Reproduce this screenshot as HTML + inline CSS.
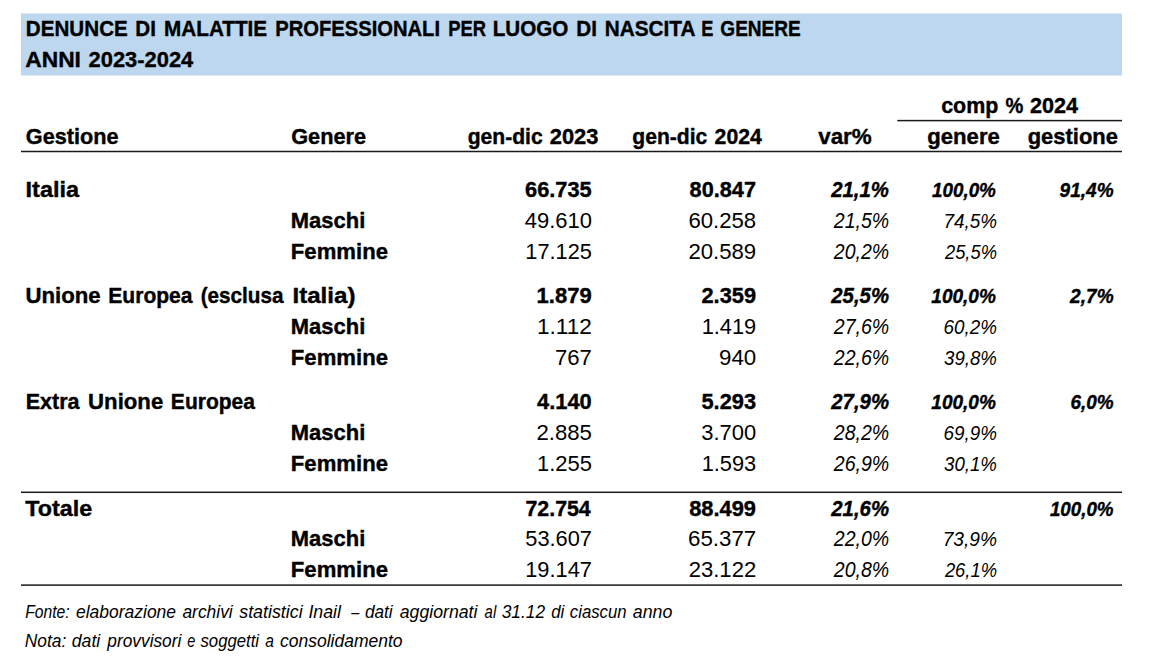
<!DOCTYPE html>
<html><head><meta charset="utf-8"><style>
html,body{margin:0;padding:0;background:#fff;width:1158px;height:671px;overflow:hidden}
svg{position:absolute;left:0;top:0;display:block}
text{font-family:"Liberation Sans",sans-serif;fill:#000;white-space:pre}
.r,.i{}
.b{font-weight:bold;stroke:#000;stroke-width:0.4px;}
.i{font-style:italic}
.bi{font-weight:bold;font-style:italic;stroke:#000;stroke-width:0.4px;}
</style></head><body>
<svg width="1158" height="671" viewBox="0 0 1158 671">
<rect x="21" y="13.5" width="1101" height="62" fill="#BDD7EE"/>
<rect x="897.3" y="119.85" width="224.7" height="1.5" fill="#1a1a1a"/>
<rect x="21" y="150.75" width="1101" height="1.5" fill="#1a1a1a"/>
<rect x="21" y="491.55" width="1101" height="1.5" fill="#1a1a1a"/>
<rect x="21" y="584.35" width="1101" height="1.5" fill="#1a1a1a"/>
<text class="b" font-size="22.7" transform="translate(25.87 36.00) scale(0.9080 1)">DENUNCE</text>
<text class="b" font-size="22.7" transform="translate(135.37 36.00) scale(0.9093 1)">DI</text>
<text class="b" font-size="22.7" transform="translate(164.07 36.00) scale(0.9122 1)">MALATTIE</text>
<text class="b" font-size="22.7" transform="translate(275.19 36.00) scale(0.8899 1)">PROFESSIONALI</text>
<text class="b" font-size="22.7" transform="translate(448.25 36.00) scale(0.8103 1)">PER</text>
<text class="b" font-size="22.7" transform="translate(492.77 36.00) scale(0.9092 1)">LUOGO</text>
<text class="b" font-size="22.7" transform="translate(576.27 36.00) scale(0.9093 1)">DI</text>
<text class="b" font-size="22.7" transform="translate(604.77 36.00) scale(0.9148 1)">NASCITA</text>
<text class="b" font-size="22.7" transform="translate(701.15 36.00) scale(0.8000 1)">E</text>
<text class="b" font-size="22.7" transform="translate(720.37 36.00) scale(0.8389 1)">GENERE</text>
<text class="b" font-size="22.7" transform="translate(25.20 67.00) scale(1.0045 1)">ANNI</text>
<text class="b" font-size="22.7" transform="translate(88.59 67.00) scale(0.9645 1)">2023-2024</text>
<text class="b" font-size="22.7" transform="translate(941.19 113.00) scale(0.9442 1)">comp</text>
<text class="b" font-size="22.7" transform="translate(1005.48 113.00) scale(0.8824 1)">%</text>
<text class="b" font-size="22.7" transform="translate(1029.99 113.00) scale(0.9502 1)">2024</text>
<text class="b" font-size="22.7" transform="translate(25.79 144.00) scale(0.9560 1)">Gestione</text>
<text class="b" font-size="22.7" transform="translate(291.19 144.00) scale(0.9581 1)">Genere</text>
<text class="b" font-size="22.7" transform="translate(467.69 144.00) scale(0.9298 1)">gen-dic</text>
<text class="b" font-size="22.7" transform="translate(549.79 144.00) scale(0.9631 1)">2023</text>
<text class="b" font-size="22.7" transform="translate(632.29 144.00) scale(0.9298 1)">gen-dic</text>
<text class="b" font-size="22.7" transform="translate(714.59 144.00) scale(0.9346 1)">2024</text>
<text class="b" font-size="22.7" transform="translate(818.20 144.00) scale(0.9860 1)">var%</text>
<text class="b" font-size="22.7" transform="translate(927.29 144.00) scale(0.9746 1)">genere</text>
<text class="b" font-size="22.7" transform="translate(1027.69 144.00) scale(0.9670 1)">gestione</text>
<text class="b" font-size="22.7" transform="translate(25.57 197.00) scale(1.0334 1)">Italia</text>
<text class="b" font-size="22.7" transform="translate(290.83 228.00) scale(0.9679 1)">Maschi</text>
<text class="b" font-size="22.7" transform="translate(290.82 259.00) scale(0.9758 1)">Femmine</text>
<text class="b" font-size="22.7" transform="translate(525.09 197.00) scale(0.9599 1)">66.735</text>
<text class="b" font-size="22.7" transform="translate(689.59 197.00) scale(0.9570 1)">80.847</text>
<text class="bi" font-size="22.7" transform="translate(831.18 197.00) scale(0.8985 1)">21,1%</text>
<text class="bi" font-size="21.0" transform="translate(931.98 197.00) scale(0.8978 1)">100,0%</text>
<text class="r" font-size="22.7" transform="translate(524.70 228.00) scale(0.9684 1)">49.610</text>
<text class="r" font-size="22.7" transform="translate(688.42 228.00) scale(0.9768 1)">60.258</text>
<text class="i" font-size="22.7" transform="translate(833.86 228.00) scale(0.8595 1)">21,5%</text>
<text class="i" font-size="21.0" transform="translate(943.40 228.00) scale(0.9003 1)">74,5%</text>
<text class="r" font-size="22.7" transform="translate(525.34 259.00) scale(0.9591 1)">17.125</text>
<text class="r" font-size="22.7" transform="translate(688.42 259.00) scale(0.9768 1)">20.589</text>
<text class="i" font-size="22.7" transform="translate(833.86 259.00) scale(0.8595 1)">20,2%</text>
<text class="i" font-size="21.0" transform="translate(944.97 259.00) scale(0.8735 1)">25,5%</text>
<text class="bi" font-size="21.0" transform="translate(1059.58 197.00) scale(0.9076 1)">91,4%</text>
<text class="b" font-size="22.7" transform="translate(25.42 303.00) scale(0.9780 1)">Unione</text>
<text class="b" font-size="22.7" transform="translate(108.26 303.00) scale(0.9287 1)">Europea</text>
<text class="b" font-size="22.7" transform="translate(200.67 303.00) scale(0.9118 1)">(esclusa</text>
<text class="b" font-size="22.7" transform="translate(292.45 303.00) scale(1.0637 1)">Italia)</text>
<text class="b" font-size="22.7" transform="translate(290.83 334.00) scale(0.9679 1)">Maschi</text>
<text class="b" font-size="22.7" transform="translate(290.82 365.00) scale(0.9758 1)">Femmine</text>
<text class="b" font-size="22.7" transform="translate(536.62 303.00) scale(0.9702 1)">1.879</text>
<text class="b" font-size="22.7" transform="translate(701.49 303.00) scale(0.9601 1)">2.359</text>
<text class="bi" font-size="22.7" transform="translate(831.28 303.00) scale(0.8969 1)">25,5%</text>
<text class="bi" font-size="21.0" transform="translate(931.28 303.00) scale(0.9076 1)">100,0%</text>
<text class="r" font-size="22.7" transform="translate(537.00 334.00) scale(0.9968 1)">1.112</text>
<text class="r" font-size="22.7" transform="translate(701.64 334.00) scale(0.9609 1)">1.419</text>
<text class="i" font-size="22.7" transform="translate(833.76 334.00) scale(0.8610 1)">27,6%</text>
<text class="i" font-size="21.0" transform="translate(943.60 334.00) scale(0.8968 1)">60,2%</text>
<text class="r" font-size="22.7" transform="translate(555.03 365.00) scale(0.9742 1)">767</text>
<text class="r" font-size="22.7" transform="translate(719.02 365.00) scale(0.9825 1)">940</text>
<text class="i" font-size="22.7" transform="translate(833.76 365.00) scale(0.8610 1)">22,6%</text>
<text class="i" font-size="21.0" transform="translate(944.00 365.00) scale(0.8901 1)">39,8%</text>
<text class="bi" font-size="21.0" transform="translate(1070.09 303.00) scale(0.9094 1)">2,7%</text>
<text class="b" font-size="22.7" transform="translate(25.64 409.00) scale(0.9499 1)">Extra</text>
<text class="b" font-size="22.7" transform="translate(88.12 409.00) scale(0.9767 1)">Unione</text>
<text class="b" font-size="22.7" transform="translate(170.86 409.00) scale(0.9265 1)">Europea</text>
<text class="b" font-size="22.7" transform="translate(290.83 440.00) scale(0.9679 1)">Maschi</text>
<text class="b" font-size="22.7" transform="translate(290.82 471.00) scale(0.9758 1)">Femmine</text>
<text class="b" font-size="22.7" transform="translate(537.09 409.00) scale(0.9619 1)">4.140</text>
<text class="b" font-size="22.7" transform="translate(701.49 409.00) scale(0.9601 1)">5.293</text>
<text class="bi" font-size="22.7" transform="translate(831.28 409.00) scale(0.8969 1)">27,9%</text>
<text class="bi" font-size="21.0" transform="translate(931.28 409.00) scale(0.9076 1)">100,0%</text>
<text class="r" font-size="22.7" transform="translate(536.42 440.00) scale(0.9772 1)">2.885</text>
<text class="r" font-size="22.7" transform="translate(701.30 440.00) scale(0.9669 1)">3.700</text>
<text class="i" font-size="22.7" transform="translate(833.76 440.00) scale(0.8610 1)">28,2%</text>
<text class="i" font-size="21.0" transform="translate(943.60 440.00) scale(0.8968 1)">69,9%</text>
<text class="r" font-size="22.7" transform="translate(537.03 471.00) scale(0.9663 1)">1.255</text>
<text class="r" font-size="22.7" transform="translate(701.64 471.00) scale(0.9609 1)">1.593</text>
<text class="i" font-size="22.7" transform="translate(833.76 471.00) scale(0.8610 1)">26,9%</text>
<text class="i" font-size="21.0" transform="translate(944.00 471.00) scale(0.8901 1)">30,1%</text>
<text class="bi" font-size="21.0" transform="translate(1070.48 409.00) scale(0.9014 1)">6,0%</text>
<text class="b" font-size="22.7" transform="translate(25.31 516.00) scale(1.0276 1)">Totale</text>
<text class="b" font-size="22.7" transform="translate(290.83 546.00) scale(0.9679 1)">Maschi</text>
<text class="b" font-size="22.7" transform="translate(290.82 577.00) scale(0.9758 1)">Femmine</text>
<text class="b" font-size="22.7" transform="translate(525.49 516.00) scale(0.9405 1)">72.754</text>
<text class="b" font-size="22.7" transform="translate(689.19 516.00) scale(0.9628 1)">88.499</text>
<text class="bi" font-size="22.7" transform="translate(831.28 516.00) scale(0.8969 1)">21,6%</text>
<text class="r" font-size="22.7" transform="translate(525.30 546.00) scale(0.9597 1)">53.607</text>
<text class="r" font-size="22.7" transform="translate(688.02 546.00) scale(0.9827 1)">65.377</text>
<text class="i" font-size="22.7" transform="translate(833.76 546.00) scale(0.8610 1)">22,0%</text>
<text class="i" font-size="21.0" transform="translate(942.67 546.00) scale(0.9126 1)">73,9%</text>
<text class="r" font-size="22.7" transform="translate(525.24 577.00) scale(0.9605 1)">19.147</text>
<text class="r" font-size="22.7" transform="translate(688.63 577.00) scale(0.9738 1)">23.122</text>
<text class="i" font-size="22.7" transform="translate(833.76 577.00) scale(0.8610 1)">20,8%</text>
<text class="i" font-size="21.0" transform="translate(944.88 577.00) scale(0.8752 1)">26,1%</text>
<text class="bi" font-size="21.0" transform="translate(1049.88 516.00) scale(0.8951 1)">100,0%</text>
<text class="i" font-size="18.1" transform="translate(25.20 618.00) scale(0.8680 1)">Fonte:</text>
<text class="i" font-size="18.1" transform="translate(76.00 618.00) scale(0.9657 1)">elaborazione</text>
<text class="i" font-size="18.1" transform="translate(182.40 618.00) scale(0.9631 1)">archivi</text>
<text class="i" font-size="18.1" transform="translate(239.20 618.00) scale(0.9874 1)">statistici</text>
<text class="i" font-size="18.1" transform="translate(308.40 618.00) scale(0.9803 1)">Inail</text>
<text class="i" font-size="18.1" transform="translate(351.15 618.00) scale(0.8000 1)">–</text>
<text class="i" font-size="18.1" transform="translate(364.90 618.00) scale(0.9518 1)">dati</text>
<text class="i" font-size="18.1" transform="translate(399.80 618.00) scale(0.9770 1)">aggiornati</text>
<text class="i" font-size="18.1" transform="translate(484.60 618.00) scale(0.8232 1)">al</text>
<text class="i" font-size="18.1" transform="translate(501.70 618.00) scale(0.9576 1)">31.12</text>
<text class="i" font-size="18.1" transform="translate(551.20 618.00) scale(0.9294 1)">di</text>
<text class="i" font-size="18.1" transform="translate(569.80 618.00) scale(0.9268 1)">ciascun</text>
<text class="i" font-size="18.1" transform="translate(632.80 618.00) scale(0.9854 1)">anno</text>
<text class="i" font-size="18.1" transform="translate(24.80 647.00) scale(0.9602 1)">Nota:</text>
<text class="i" font-size="18.1" transform="translate(71.80 647.00) scale(0.9750 1)">dati</text>
<text class="i" font-size="18.1" transform="translate(107.36 647.00) scale(0.9559 1)">provvisori</text>
<text class="i" font-size="18.1" transform="translate(187.15 647.00) scale(0.8000 1)">e</text>
<text class="i" font-size="18.1" transform="translate(200.50 647.00) scale(0.9246 1)">soggetti</text>
<text class="i" font-size="18.1" transform="translate(265.30 647.00) scale(0.8600 1)">a</text>
<text class="i" font-size="18.1" transform="translate(279.90 647.00) scale(0.9686 1)">consolidamento</text>
</svg>
</body></html>
